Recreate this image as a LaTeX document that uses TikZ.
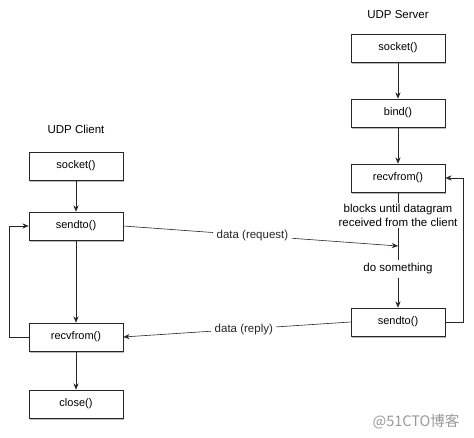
\documentclass[tikz,border=0pt]{standalone}
\usepackage{fontspec}
\setmainfont{Liberation Sans}
\newfontfamily\cjkfont{Noto Sans CJK SC}
\usetikzlibrary{arrows.meta,positioning,shadows}

\begin{document}
\begin{tikzpicture}[x=1pt, y=-1pt,
    box/.style={rectangle, draw=black!85, fill=white, line width=0.6pt, minimum width=94pt, minimum height=28pt,
        font=\fontsize{11}{13}\selectfont,
        drop shadow={shadow xshift=0.8pt, shadow yshift=-1.8pt, fill=black!45, opacity=0.6}},
    lbl/.style={font=\fontsize{11.5}{13.5}\selectfont, align=center},
    arr/.style={-{Stealth[length=2.2mm, width=1.8mm]}, black!85, line width=0.6pt},
    ln/.style={black!85, line width=0.6pt}
]
    \useasboundingbox (0,0) rectangle (474,438);
    % client side
    \node[lbl] (client) at (76,129) {UDP Client};
    \node[box] (csock) at (76,166) {socket()};
    \node[box] (csend) at (76,226) {sendto()};
    \node[box] (crecv) at (76,337) {recvfrom()};
    \node[box] (cclose) at (76,404) {close()};
    % server side
    \node[lbl] (server) at (398,15) {UDP Server};
    \node[box] (ssock) at (398,48) {socket()};
    \node[box] (sbind) at (398,113) {bind()};
    \node[box] (srecv) at (398,178) {recvfrom()};
    \node[lbl, inner sep=1pt] (wait) at (398,215.5) {blocks until datagram\\received from the client};
    \coordinate (req) at (398,246);
    \node[lbl] (work) at (398,269) {do something};
    \node[box] (ssend) at (398,322) {sendto()};
    % watermark
    \node[font=\cjkfont\fontsize{14.5}{16}\selectfont, text=black!40] (mark) at (416,422) {@51CTO博客};

    \draw[arr] (csock) -- (csend);
    \draw[arr] (csend) -- (crecv);
    \draw[arr] (crecv) -- (cclose);
    \draw[arr] (crecv.west) -- ++(-19,0) |- (csend.west);

    \draw[arr] (ssock) -- (sbind);
    \draw[arr] (sbind) -- (srecv);
    \draw[ln] (srecv) -- (wait);
    \draw[ln] (wait) -- (work);
    \draw[arr] (work) -- (ssend);
    \draw[arr] (ssend.east) -- ++(18,0) |- (srecv.east);

    \draw[arr] (csend.east) -- node[lbl, fill=white, pos=0.47] {data (request)} (req);
    \draw[arr] (ssend.west) -- node[lbl, fill=white, pos=0.47] {data (reply)} (crecv.east);
\end{tikzpicture}
\end{document}
